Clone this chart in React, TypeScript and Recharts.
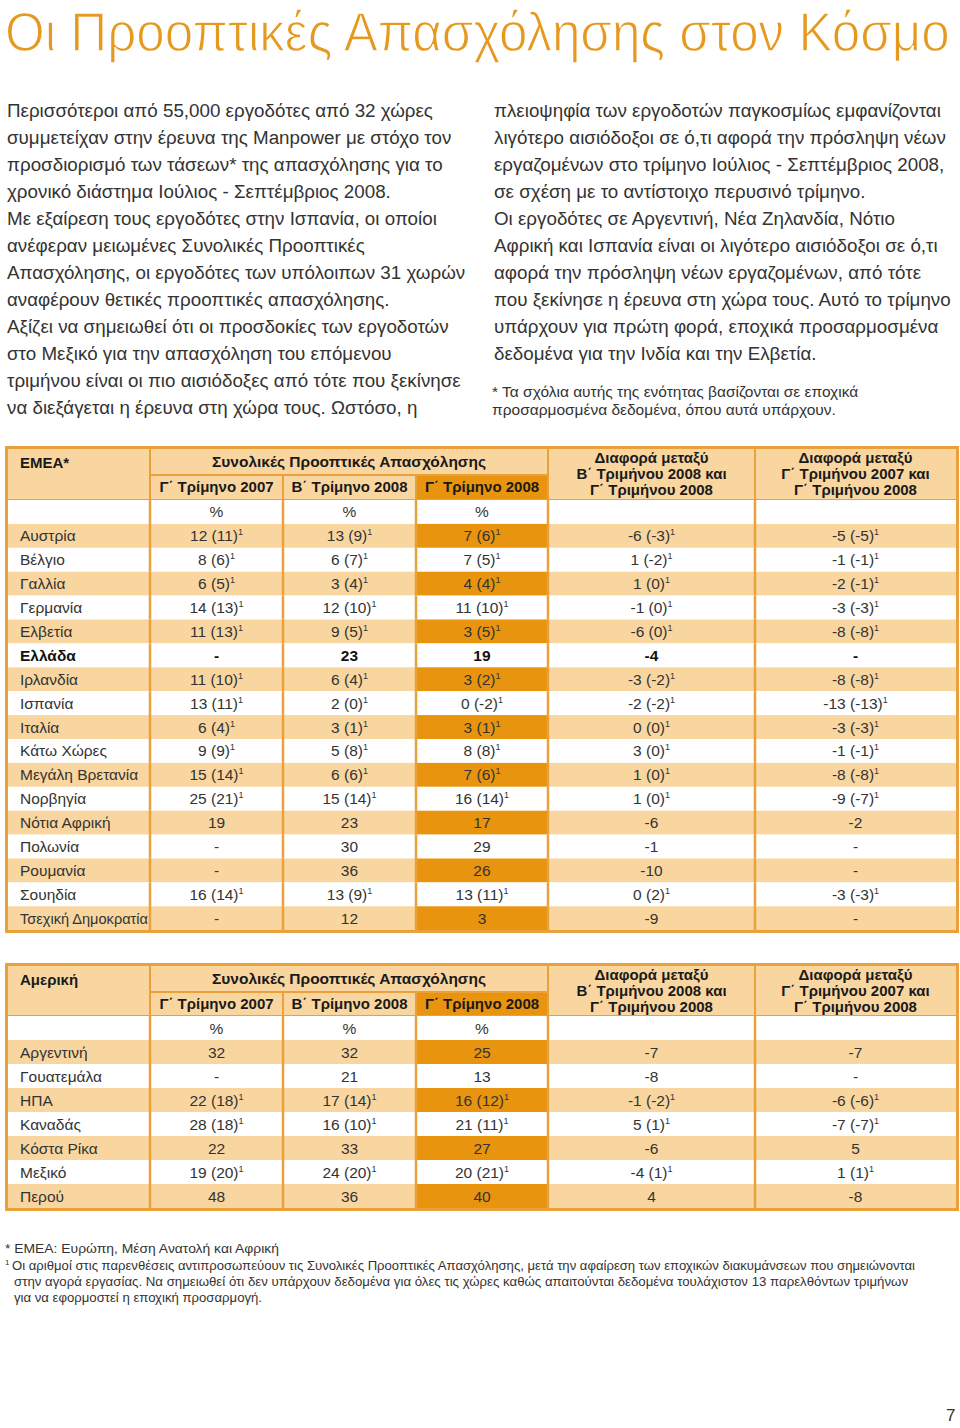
import React, { useLayoutEffect, useRef, useState } from "react";
import { BarChart, Bar, XAxis, YAxis } from "recharts";

// ---- data ----
const emeaCountries = [
  "Αυστρία", "Βέλγιο", "Γαλλία", "Γερμανία", "Ελβετία", "Ελλάδα", "Ιρλανδία", "Ισπανία",
  "Ιταλία", "Κάτω Χώρες", "Μεγάλη Βρετανία", "Νορβηγία", "Νότια Αφρική", "Πολωνία",
  "Ρουμανία", "Σουηδία", "Τσεχική Δημοκρατία",
];
const emeaQ3_07 = [12, 8, 6, 14, 11, null, 11, 13, 6, 9, 15, 25, 19, null, null, 16, null];
const emeaQ3_07Adj = [11, 6, 5, 13, 13, null, 10, 11, 4, 9, 14, 21, null, null, null, 14, null];
const emeaQ2_08 = [13, 6, 3, 12, 9, 23, 6, 2, 3, 5, 6, 15, 23, 30, 36, 13, 12];
const emeaQ2_08Adj = [9, 7, 4, 10, 5, null, 4, 0, 1, 8, 6, 14, null, null, null, 9, null];
const emeaQ3_08 = [7, 7, 4, 11, 3, 19, 3, 0, 3, 8, 7, 16, 17, 29, 26, 13, 3];
const emeaQ3_08Adj = [6, 5, 4, 10, 5, null, 2, -2, 1, 8, 6, 14, null, null, null, 11, null];
const emeaQoQ = [-6, 1, 1, -1, -6, -4, -3, -2, 0, 3, 1, 1, -6, -1, -10, 0, -9];
const emeaQoQAdj = [-3, -2, 0, 0, 0, null, -2, -2, 0, 0, 0, 0, null, null, null, 2, null];
const emeaYoY = [-5, -1, -2, -3, -8, null, -8, -13, -3, -1, -8, -9, -2, null, null, -3, null];
const emeaYoYAdj = [-5, -1, -1, -3, -8, null, -8, -13, -3, -1, -8, -7, null, null, null, -3, null];
const emeaBold = ["Ελλάδα"];

const amCountries = ["Αργεντινή", "Γουατεμάλα", "ΗΠΑ", "Καναδάς", "Κόστα Ρίκα", "Μεξικό", "Περού"];
const amQ3_07 = [32, null, 22, 28, 22, 19, 48];
const amQ3_07Adj = [null, null, 18, 18, null, 20, null];
const amQ2_08 = [32, 21, 17, 16, 33, 24, 36];
const amQ2_08Adj = [null, null, 14, 10, null, 20, null];
const amQ3_08 = [25, 13, 16, 21, 27, 20, 40];
const amQ3_08Adj = [null, null, 12, 11, null, 21, null];
const amQoQ = [-7, -8, -1, 5, -6, -4, 4];
const amQoQAdj = [null, null, -2, 1, null, 1, null];
const amYoY = [-7, null, -6, -7, 5, 1, -8];
const amYoYAdj = [null, null, -6, -7, null, 1, null];

const colHeads = ["Γ΄ Τρίμηνο 2007", "Β΄ Τρίμηνο 2008", "Γ΄ Τρίμηνο 2008"];
const diffHead1 = ["Διαφορά μεταξύ", "Β΄ Τριμήνου 2008 και", "Γ΄ Τριμήνου 2008"];
const diffHead2 = ["Διαφορά μεταξύ", "Γ΄ Τριμήνου 2007 και", "Γ΄ Τριμήνου 2008"];

const leftText = [
  "Περισσότεροι από 55,000 εργοδότες από 32 χώρες",
  "συμμετείχαν στην έρευνα της Manpower με στόχο τον",
  "προσδιορισμό των τάσεων* της απασχόλησης για το",
  "χρονικό διάστημα Ιούλιος - Σεπτέμβριος 2008.",
  "Με εξαίρεση τους εργοδότες στην Ισπανία, οι οποίοι",
  "ανέφεραν μειωμένες Συνολικές Προοπτικές",
  "Απασχόλησης, οι εργοδότες των υπόλοιπων 31 χωρών",
  "αναφέρουν θετικές προοπτικές απασχόλησης.",
  "Αξίζει να σημειωθεί ότι οι προσδοκίες των εργοδοτών",
  "στο Μεξικό για την απασχόληση του επόμενου",
  "τριμήνου είναι οι πιο αισιόδοξες από τότε που ξεκίνησε",
  "να διεξάγεται η έρευνα στη χώρα τους. Ωστόσο, η",
];
const rightText = [
  "πλειοψηφία των εργοδοτών παγκοσμίως εμφανίζονται",
  "λιγότερο αισιόδοξοι σε ό,τι αφορά την πρόσληψη νέων",
  "εργαζομένων στο τρίμηνο Ιούλιος - Σεπτέμβριος 2008,",
  "σε σχέση με το αντίστοιχο περυσινό τρίμηνο.",
  "Οι εργοδότες σε Αργεντινή, Νέα Ζηλανδία, Νότιο",
  "Αφρική και Ισπανία είναι οι λιγότερο αισιόδοξοι σε ό,τι",
  "αφορά την πρόσληψη νέων εργαζομένων, από τότε",
  "που ξεκίνησε η έρευνα στη χώρα τους. Αυτό το τρίμηνο",
  "υπάρχουν για πρώτη φορά, εποχικά προσαρμοσμένα",
  "δεδομένα για την Ινδία και την Ελβετία.",
];
const rightNote = [
  "* Τα σχόλια αυτής της ενότητας βασίζονται σε εποχικά",
  "προσαρμοσμένα δεδομένα, όπου αυτά υπάρχουν.",
];
const footLines = [
  "Οι αριθμοί στις παρενθέσεις αντιπροσωπεύουν τις Συνολικές Προοπτικές Απασχόλησης, μετά την αφαίρεση των εποχικών διακυμάνσεων που σημειώνονται",
  "στην αγορά εργασίας. Να σημειωθεί ότι δεν υπάρχουν δεδομένα για όλες τις χώρες καθώς απαιτούνται δεδομένα τουλάχιστον 13 παρελθόντων τριμήνων",
  "για να εφορμοστεί η εποχική προσαρμογή.",
];

// ---- styling ----
const FONT = '"Liberation Sans", Arial, Helvetica, sans-serif';
const LIGHT = "#f9d6a0";
const DARK = "#e8940e";
const BORDER = "#eaa13c";
const TEXT = "#333333";
const TITLE = "#e6991f";
const COL_W = [142, 133, 133, 132, 207, 201];
const TABLE_W = COL_W.reduce((a, b) => a + b, 0);

type Val = number | null;
type Row = {
  kind: "pct" | "data";
  idx: number;
  country: string;
  bold: boolean;
  cells: { v: Val; a: Val }[];
  [k: string]: any;
};

function buildRows(countries: string[], cols: [Val[], Val[]][], bold: string[]): Row[] {
  const widths: Record<string, number> = {};
  COL_W.forEach((w, k) => (widths["w" + k] = w));
  const rows: Row[] = [{ kind: "pct", idx: -1, country: "%row", bold: false, cells: [], ...widths }];
  countries.forEach((c, i) => {
    rows.push({
      kind: "data",
      idx: i,
      country: c,
      bold: bold.includes(c),
      cells: cols.map(([v, a]) => ({ v: v[i], a: a[i] })),
      ...widths,
    });
  });
  return rows;
}

const makeCell = (col: number) => (props: any) => {
  const { x, y, width, height, payload } = props;
  const row = payload as Row;
  const stripe = row.kind === "data" && row.idx % 2 === 0;
  const fill = stripe ? (col === 3 ? DARK : LIGHT) : "#ffffff";
  const cy = y + height / 2 + 5.5;
  let content: React.ReactNode = null;
  if (row.kind === "pct") {
    content = col >= 1 && col <= 3 ? (
      <text x={x + width / 2} y={cy} textAnchor="middle" fontSize={15.5} fill={TEXT} fontFamily={FONT}>%</text>
    ) : null;
  } else if (col === 0) {
    const long = row.country.length > 15;
    content = (
      <text
        x={x + 12}
        y={cy}
        fontSize={15.5}
        fill={row.bold ? "#111" : TEXT}
        fontWeight={row.bold ? 700 : 400}
        fontFamily={FONT}
        textLength={long ? width - 14 : undefined}
        lengthAdjust={long ? "spacingAndGlyphs" : undefined}
      >
        {row.country}
      </text>
    );
  } else {
    const c = row.cells[col - 1];
    content = (
      <text x={x + width / 2} y={cy} textAnchor="middle" fontSize={15.5} fill={row.bold ? "#111" : TEXT} fontWeight={row.bold ? 700 : 400} fontFamily={FONT}>
        {c.v === null ? "-" : c.a === null ? String(c.v) : `${c.v} (${c.a})`}
        {c.v !== null && c.a !== null ? (
          <tspan fontSize={9} dy={-6}>1</tspan>
        ) : null}
      </text>
    );
  }
  return (
    <g>
      <rect x={x} y={y} width={width} height={height} fill={fill} />
      {col > 0 ? <line x1={x} y1={y} x2={x} y2={y + height} stroke={BORDER} strokeWidth={2.5} /> : null}
      {content}
    </g>
  );
};

function TableHeader({ title, height, split }: { title: string; height: number; split: number }) {
  const xs: number[] = [];
  COL_W.reduce((acc, w) => { xs.push(acc); return acc + w; }, 0);
  const bold = { fontWeight: 700, color: "#1a1a1a", fontSize: 15 } as React.CSSProperties;
  const vline = (x: number, top: number, h: number) => (
    <div style={{ position: "absolute", left: x - 1.25, top, width: 2.5, height: h, background: BORDER }} />
  );
  return (
    <div style={{ position: "relative", width: TABLE_W, height, background: LIGHT }}>
      <div style={{ ...bold, position: "absolute", left: 12, top: 5 }}>{title}</div>
      <div style={{ ...bold, position: "absolute", left: xs[1], width: COL_W[1] + COL_W[2] + COL_W[3], top: 4, textAlign: "center", fontSize: 15.5 }}>
        Συνολικές Προοπτικές Απασχόλησης
      </div>
      <div style={{ position: "absolute", left: xs[3], top: split, width: COL_W[3], height: height - split, background: DARK }} />
      {colHeads.map((h, k) => (
        <div key={h} style={{ ...bold, position: "absolute", left: xs[k + 1], width: COL_W[k + 1], top: split + 3, textAlign: "center" }}>
          {h}
        </div>
      ))}
      {[diffHead1, diffHead2].map((lines, k) => (
        <div key={k} style={{ ...bold, position: "absolute", left: xs[4 + k], width: COL_W[4 + k], top: 1, textAlign: "center", lineHeight: "16px" }}>
          {lines.map((l) => <div key={l}>{l}</div>)}
        </div>
      ))}
      <div style={{ position: "absolute", left: xs[1], top: split - 1.25, width: COL_W[1] + COL_W[2] + COL_W[3], height: 2.5, background: BORDER }} />
      {vline(xs[1], 0, height)}
      {vline(xs[2], split, height - split)}
      {vline(xs[3], split, height - split)}
      {vline(xs[4], 0, height)}
      {vline(xs[5], 0, height)}
      <div style={{ position: "absolute", left: 0, top: height - 1.5, width: TABLE_W, height: 2.5, background: BORDER }} />
    </div>
  );
}

function DataTable({ title, rows, top, headH, split, rowH }: { title: string; rows: Row[]; top: number; headH: number; split: number; rowH: number }) {
  return (
    <div style={{ position: "absolute", left: 5, top, border: `3px solid ${BORDER}`, width: TABLE_W }}>
      <TableHeader title={title} height={headH} split={split} />
      <BarChart
        width={TABLE_W}
        height={rows.length * rowH}
        data={rows}
        layout="vertical"
        margin={{ top: 0, right: 0, bottom: 0, left: 0 }}
        barCategoryGap={0}
        barGap={0}
      >
        <XAxis type="number" hide domain={[0, TABLE_W]} allowDataOverflow />
        <YAxis type="category" dataKey="country" hide />
        {COL_W.map((_, k) => (
          <Bar key={k} dataKey={"w" + k} stackId="t" isAnimationActive={false} shape={makeCell(k)} />
        ))}
      </BarChart>
    </div>
  );
}

// title is scaled horizontally to the page width after measuring it
function Title({ text, width }: { text: string; width: number }) {
  const ref = useRef<SVGTextElement>(null);
  const [sx, setSx] = useState(1);
  useLayoutEffect(() => {
    if (ref.current) {
      const w = ref.current.getComputedTextLength();
      if (w > 0) setSx(width / w);
    }
  }, [text, width]);
  return (
    <svg width={960} height={80} style={{ position: "absolute", left: 0, top: 0 }}>
      <g transform={`translate(5,0) scale(${sx},1)`}>
        <text
          ref={ref}
          x={0}
          y={51}
          fontSize={56}
          fill={TITLE}
          stroke="#ffffff"
          strokeWidth={1.3}
          paintOrder="fill stroke"
          fontFamily={FONT}
        >
          {text}
        </text>
      </g>
    </svg>
  );
}

const emeaRows = buildRows(
  emeaCountries,
  [[emeaQ3_07, emeaQ3_07Adj], [emeaQ2_08, emeaQ2_08Adj], [emeaQ3_08, emeaQ3_08Adj], [emeaQoQ, emeaQoQAdj], [emeaYoY, emeaYoYAdj]],
  emeaBold,
);
const amRows = buildRows(
  amCountries,
  [[amQ3_07, amQ3_07Adj], [amQ2_08, amQ2_08Adj], [amQ3_08, amQ3_08Adj], [amQoQ, amQoQAdj], [amYoY, amYoYAdj]],
  [],
);

export default function App() {
  return (
    <div style={{ position: "absolute", left: 0, top: 0, width: 960, height: 1428, background: "#fff", fontFamily: FONT, color: TEXT }}>
      <Title text="Οι Προοπτικές Απασχόλησης στον Κόσμο" width={945} />

      <div style={{ position: "absolute", left: 7, top: 97, fontSize: 18.8, lineHeight: "27px", whiteSpace: "nowrap" }}>
        {leftText.map((l) => <div key={l}>{l}</div>)}
      </div>
      <div style={{ position: "absolute", left: 494, top: 97, fontSize: 18.8, lineHeight: "27px", whiteSpace: "nowrap" }}>
        {rightText.map((l) => <div key={l}>{l}</div>)}
      </div>
      <div style={{ position: "absolute", left: 492, top: 383, fontSize: 15.5, lineHeight: "18px", whiteSpace: "nowrap" }}>
        {rightNote.map((l) => <div key={l}>{l}</div>)}
      </div>

      <DataTable title="EMEA*" rows={emeaRows} top={446} headH={51} split={26} rowH={23.9} />
      <DataTable title="Αμερική" rows={amRows} top={963} headH={50} split={26} rowH={24} />

      <svg width={960} height={80} style={{ position: "absolute", left: 0, top: 1236 }}>
        <text x={5} y={17} fontSize={13.5} fill={TEXT} fontFamily={FONT} textLength={274} lengthAdjust="spacingAndGlyphs">
          * EMEA: Ευρώπη, Μέση Ανατολή και Αφρική
        </text>
        <text x={5} y={29} fontSize={8} fill={TEXT} fontFamily={FONT}>1</text>
        <text x={12} y={34} fontSize={13.5} fill={TEXT} fontFamily={FONT} textLength={903} lengthAdjust="spacingAndGlyphs">
          {footLines[0]}
        </text>
        <text x={14} y={50} fontSize={13.5} fill={TEXT} fontFamily={FONT} textLength={894} lengthAdjust="spacingAndGlyphs">
          {footLines[1]}
        </text>
        <text x={14} y={66} fontSize={13.5} fill={TEXT} fontFamily={FONT} textLength={248} lengthAdjust="spacingAndGlyphs">
          {footLines[2]}
        </text>
      </svg>
      <div style={{ position: "absolute", left: 946, top: 1406, fontSize: 17 }}>7</div>
    </div>
  );
}
